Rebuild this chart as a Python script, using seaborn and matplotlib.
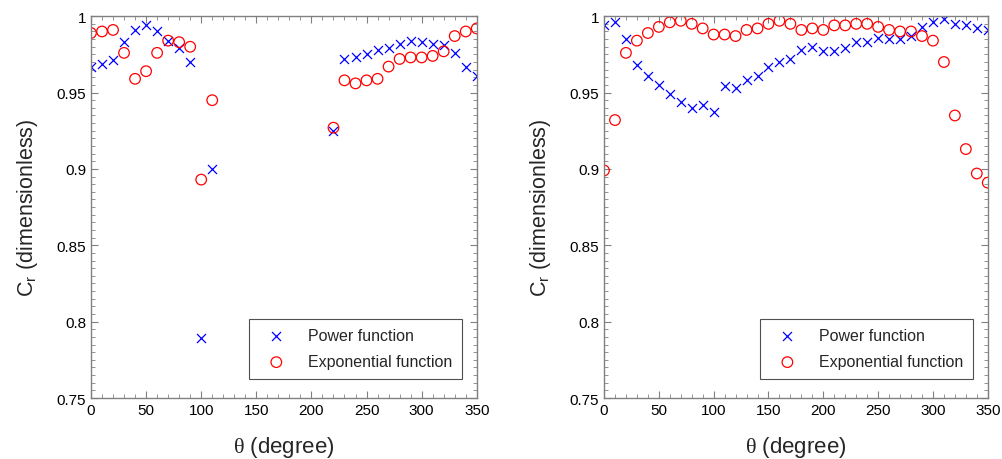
import numpy as np
import pandas as pd
import seaborn as sns
import matplotlib.pyplot as plt
from matplotlib.ticker import MultipleLocator, FuncFormatter

# angles (degree) for left panel - gap between 110 and 220
theta_left = [0, 10, 20, 30, 40, 50, 60, 70, 80, 90, 100, 110,
              220, 230, 240, 250, 260, 270, 280, 290, 300, 310, 320, 330, 340, 350]
power_left = [0.967, 0.969, 0.971, 0.983, 0.991, 0.994, 0.990, 0.984, 0.979, 0.970, 0.789, 0.900,
              0.925, 0.972, 0.973, 0.975, 0.978, 0.979, 0.982, 0.984, 0.983, 0.982, 0.981, 0.976, 0.967, 0.961]
expo_left = [0.989, 0.990, 0.991, 0.976, 0.959, 0.964, 0.976, 0.984, 0.983, 0.980, 0.893, 0.945,
             0.927, 0.958, 0.956, 0.958, 0.959, 0.967, 0.972, 0.973, 0.973, 0.974, 0.977, 0.987, 0.990, 0.992]

# right panel - full circle
theta_right = [0, 10, 20, 30, 40, 50, 60, 70, 80, 90, 100, 110, 120, 130, 140, 150, 160, 170,
               180, 190, 200, 210, 220, 230, 240, 250, 260, 270, 280, 290, 300, 310, 320, 330, 340, 350]
power_right = [0.994, 0.996, 0.985, 0.968, 0.961, 0.955, 0.949, 0.944, 0.940, 0.942, 0.937, 0.954,
               0.953, 0.958, 0.961, 0.967, 0.970, 0.972, 0.978, 0.980, 0.977, 0.977, 0.979, 0.983,
               0.983, 0.986, 0.985, 0.985, 0.987, 0.993, 0.996, 0.998, 0.995, 0.994, 0.992, 0.991]
expo_right = [0.899, 0.932, 0.976, 0.984, 0.989, 0.993, 0.996, 0.997, 0.995, 0.992, 0.988, 0.988,
              0.987, 0.991, 0.992, 0.995, 0.997, 0.995, 0.991, 0.992, 0.991, 0.994, 0.994, 0.995,
              0.995, 0.993, 0.991, 0.990, 0.990, 0.987, 0.984, 0.970, 0.935, 0.913, 0.897, 0.891]

sns.set_style('ticks')
plt.rcParams['font.family'] = ['Liberation Sans', 'DejaVu Sans']
plt.rcParams['mathtext.fontset'] = 'custom'
plt.rcParams['mathtext.rm'] = 'Liberation Sans'
plt.rcParams['mathtext.sf'] = 'Liberation Serif'

spine_col = '#808080'

fig = plt.figure(figsize=(10.02, 4.6), dpi=100)
ax1 = fig.add_axes([0.0908, 0.1326, 0.385, 0.830])
ax2 = fig.add_axes([0.6028, 0.1326, 0.383, 0.830])

panels = [(ax1, theta_left, power_left, expo_left),
          (ax2, theta_right, power_right, expo_right)]

for ax, th, pw, ex in panels:
    df = pd.DataFrame({'theta': th, 'power': pw, 'expo': ex})
    sns.scatterplot(data=df, x='theta', y='power', ax=ax, marker='x', color='blue',
                    s=42, linewidth=0.9, label='Power function')
    sns.scatterplot(data=df, x='theta', y='expo', ax=ax, marker='o', facecolor='none',
                    edgecolor='red', s=58, linewidth=0.9, label='Exponential function')
    ax.set_xlim(0, 350)
    ax.set_ylim(0.75, 1.0)
    ax.xaxis.set_major_locator(MultipleLocator(50))
    ax.xaxis.set_minor_locator(MultipleLocator(10))
    ax.yaxis.set_major_locator(MultipleLocator(0.05))
    ax.yaxis.set_minor_locator(MultipleLocator(0.005))
    ax.yaxis.set_major_formatter(FuncFormatter(lambda v, p: '%g' % round(v, 3)))
    ax.tick_params(which='both', direction='in', top=True, right=True,
                   color=spine_col, labelsize=11, labelcolor='black')
    ax.tick_params(which='major', length=5, width=0.8)
    ax.tick_params(which='minor', length=3, width=0.6)
    for sp in ax.spines.values():
        sp.set_color(spine_col)
        sp.set_linewidth(1.0)
    ax.set_xlabel(r'$\mathsf{\theta}$ (degree)', fontsize=16, labelpad=12)
    ax.set_ylabel(r'C$_{\mathrm{r}}$ (dimensionless)', fontsize=15.5, labelpad=12)
    leg = ax.legend(loc='lower right', bbox_to_anchor=(0.962, 0.05), borderaxespad=0,
                    fontsize=11.5, fancybox=False, edgecolor='#505050', framealpha=1,
                    handletextpad=0.9, borderpad=0.6, labelspacing=0.7, handlelength=2.2)
    leg.get_frame().set_linewidth(0.8)

fig.savefig('out.png', dpi=100)
